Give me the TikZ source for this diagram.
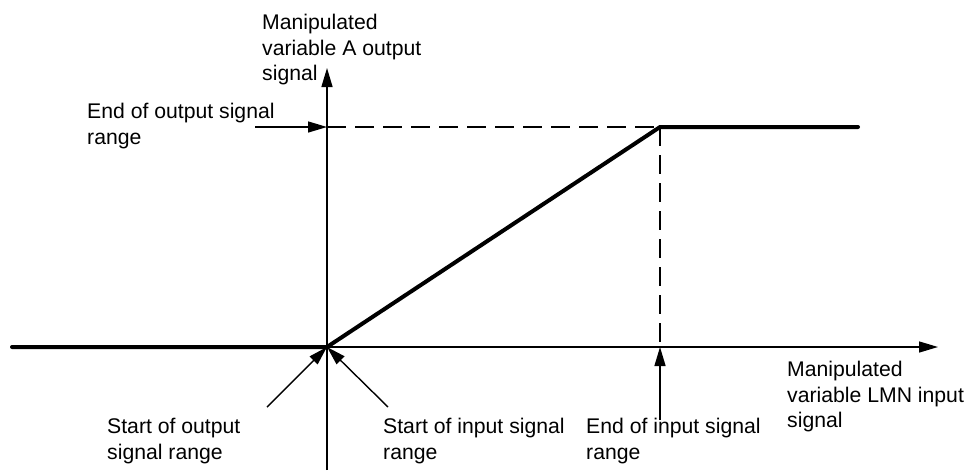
\documentclass[tikz,border=0pt]{standalone}
\usepackage{fontspec}
\setmainfont{Liberation Sans}
\usetikzlibrary{arrows.meta}
\begin{document}
\begin{tikzpicture}[x=1pt,y=-1pt,
  lbl/.style={inner sep=0pt,anchor=north west,align=left,font=\fontsize{21.2}{25.5}\selectfont},
  thinline/.style={line width=1.4pt},
  curve/.style={line width=4pt,line cap=round,line join=miter},
  dashline/.style={line width=1.4pt,dash pattern=on 19pt off 9pt},
  ptr/.style={line width=1.4pt,-{Triangle[length=19pt,width=11pt]}}]
\useasboundingbox (0,0) rectangle (973,472);
% key points
\coordinate (O) at (327,347);
\coordinate (yb) at (327,470);
\coordinate (yt) at (327,68);
\coordinate (xs) at (327,347);
\coordinate (xe) at (938,347);
\coordinate (L) at (12,347);
\coordinate (K) at (660,127);
\coordinate (Kx) at (660,347);
\coordinate (Ky) at (327,127);
\coordinate (R) at (858,127);
\coordinate (p1) at (255,127);
\coordinate (p2) at (660,420);
\coordinate (p3) at (267,407);
\coordinate (p4) at (388,407);
% axes
\draw[ptr] (yb) -- (yt);
\draw[ptr] (xs) -- (xe);
% dashed guides
\draw[dashline] (Ky) -- (K);
\draw[dashline] (K) -- (Kx);
% characteristic
\draw[curve] (L) -- (O) -- (K) -- (R);
% pointers
\draw[ptr] (p1) -- (Ky);
\draw[ptr] (p2) -- (Kx);
\draw[ptr] (p3) -- (O);
\draw[ptr] (p4) -- (O);
% labels
\node[lbl] (ly) at (262,14) {Manipulated\\variable A output\\signal};
\node[lbl] (leo) at (87,103) {End of output signal\\range};
\node[lbl] (lso) at (107,418) {Start of output\\signal range};
\node[lbl] (lsi) at (383,418) {Start of input signal\\range};
\node[lbl] (lei) at (586,418) {End of input signal\\range};
\node[lbl] (lx) at (787,361) {Manipulated\\variable LMN input\\signal};
\end{tikzpicture}
\end{document}
